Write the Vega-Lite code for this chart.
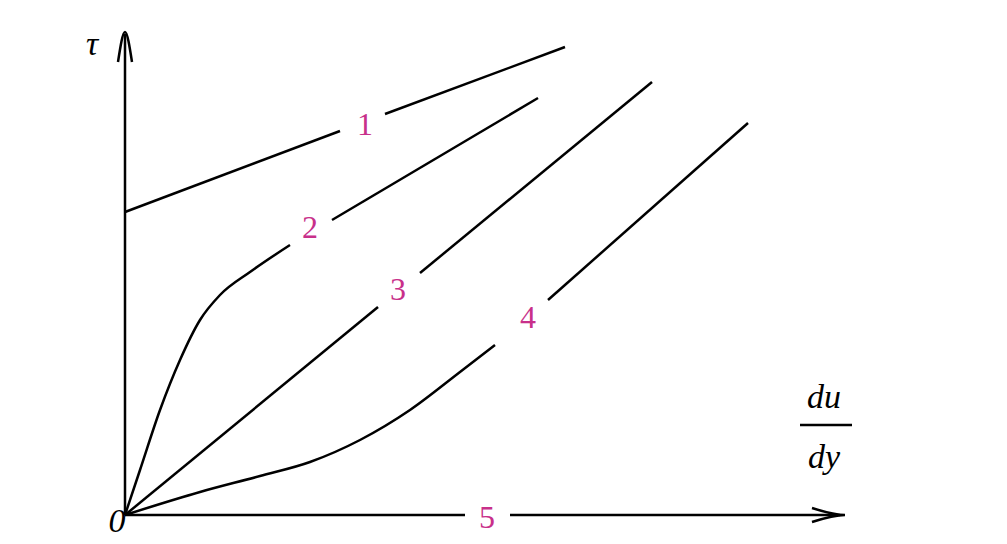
{
  "$schema": "https://vega.github.io/schema/vega-lite/v6.json",
  "width": 1007,
  "height": 544,
  "autosize": {"type": "fit", "contains": "padding"},
  "padding": 0,
  "background": "white",
  "config": {"view": {"stroke": null}},
  "datasets": {
    "lines": [
      {"seg": "yaxis", "o": 1, "x": 125, "y": 515},
      {"seg": "yaxis", "o": 2, "x": 125, "y": 34},
      {"seg": "yarrow", "o": 1, "x": 118, "y": 62},
      {"seg": "yarrow", "o": 2, "x": 125, "y": 32},
      {"seg": "yarrow", "o": 3, "x": 132, "y": 62},
      {"seg": "xarrow", "o": 1, "x": 812, "y": 508},
      {"seg": "xarrow", "o": 2, "x": 845, "y": 515},
      {"seg": "xarrow", "o": 3, "x": 812, "y": 522},
      {"seg": "frac", "o": 1, "x": 800, "y": 425},
      {"seg": "frac", "o": 2, "x": 852, "y": 425},
      {"seg": "1a", "o": 1, "x": 125, "y": 212},
      {"seg": "1a", "o": 2, "x": 340, "y": 131},
      {"seg": "1b", "o": 1, "x": 385, "y": 114},
      {"seg": "1b", "o": 2, "x": 565, "y": 47},
      {"seg": "2a", "o": 1, "x": 125, "y": 515},
      {"seg": "2a", "o": 2, "x": 140, "y": 470},
      {"seg": "2a", "o": 3, "x": 160, "y": 410},
      {"seg": "2a", "o": 4, "x": 180, "y": 360},
      {"seg": "2a", "o": 5, "x": 200, "y": 320},
      {"seg": "2a", "o": 6, "x": 220, "y": 295},
      {"seg": "2a", "o": 7, "x": 250, "y": 272},
      {"seg": "2a", "o": 8, "x": 290, "y": 245},
      {"seg": "2b", "o": 1, "x": 332, "y": 220},
      {"seg": "2b", "o": 2, "x": 538, "y": 98},
      {"seg": "3a", "o": 1, "x": 125, "y": 515},
      {"seg": "3a", "o": 2, "x": 378, "y": 307},
      {"seg": "3b", "o": 1, "x": 420, "y": 273},
      {"seg": "3b", "o": 2, "x": 652, "y": 82},
      {"seg": "4a", "o": 1, "x": 125, "y": 515},
      {"seg": "4a", "o": 2, "x": 200, "y": 492},
      {"seg": "4a", "o": 3, "x": 260, "y": 476},
      {"seg": "4a", "o": 4, "x": 310, "y": 462},
      {"seg": "4a", "o": 5, "x": 360, "y": 440},
      {"seg": "4a", "o": 6, "x": 410, "y": 410},
      {"seg": "4a", "o": 7, "x": 460, "y": 372},
      {"seg": "4a", "o": 8, "x": 495, "y": 345},
      {"seg": "4b", "o": 1, "x": 548, "y": 300},
      {"seg": "4b", "o": 2, "x": 748, "y": 123},
      {"seg": "5a", "o": 1, "x": 125, "y": 515},
      {"seg": "5a", "o": 2, "x": 465, "y": 515},
      {"seg": "5b", "o": 1, "x": 510, "y": 515},
      {"seg": "5b", "o": 2, "x": 840, "y": 515}
    ],
    "nums": [
      {"t": "1", "x": 365, "y": 125},
      {"t": "2", "x": 310, "y": 228},
      {"t": "3", "x": 398, "y": 290},
      {"t": "4", "x": 528, "y": 318},
      {"t": "5", "x": 487, "y": 518}
    ],
    "syms": [
      {"t": "τ", "x": 92, "y": 45},
      {"t": "du", "x": 824, "y": 398},
      {"t": "dy", "x": 824, "y": 458},
      {"t": "0", "x": 117, "y": 522}
    ]
  },
  "layer": [
    {
      "data": {"name": "lines"},
      "mark": {"type": "line", "color": "black", "strokeWidth": 2.5, "interpolate": "monotone"},
      "encoding": {
        "x": {"field": "x", "type": "quantitative", "scale": {"domain": [0, 1007], "nice": false, "zero": false}, "axis": null},
        "y": {"field": "y", "type": "quantitative", "scale": {"domain": [0, 544], "reverse": true, "nice": false, "zero": false}, "axis": null},
        "detail": {"field": "seg"},
        "order": {"field": "o"}
      }
    },
    {
      "data": {"name": "nums"},
      "mark": {"type": "text", "color": "#c8308a", "fontSize": 32, "font": "Liberation Serif"},
      "encoding": {
        "x": {"field": "x", "type": "quantitative"},
        "y": {"field": "y", "type": "quantitative"},
        "text": {"field": "t"}
      }
    },
    {
      "data": {"name": "syms"},
      "mark": {"type": "text", "color": "black", "fontSize": 34, "font": "Liberation Serif", "fontStyle": "italic"},
      "encoding": {
        "x": {"field": "x", "type": "quantitative"},
        "y": {"field": "y", "type": "quantitative"},
        "text": {"field": "t"}
      }
    }
  ]
}
